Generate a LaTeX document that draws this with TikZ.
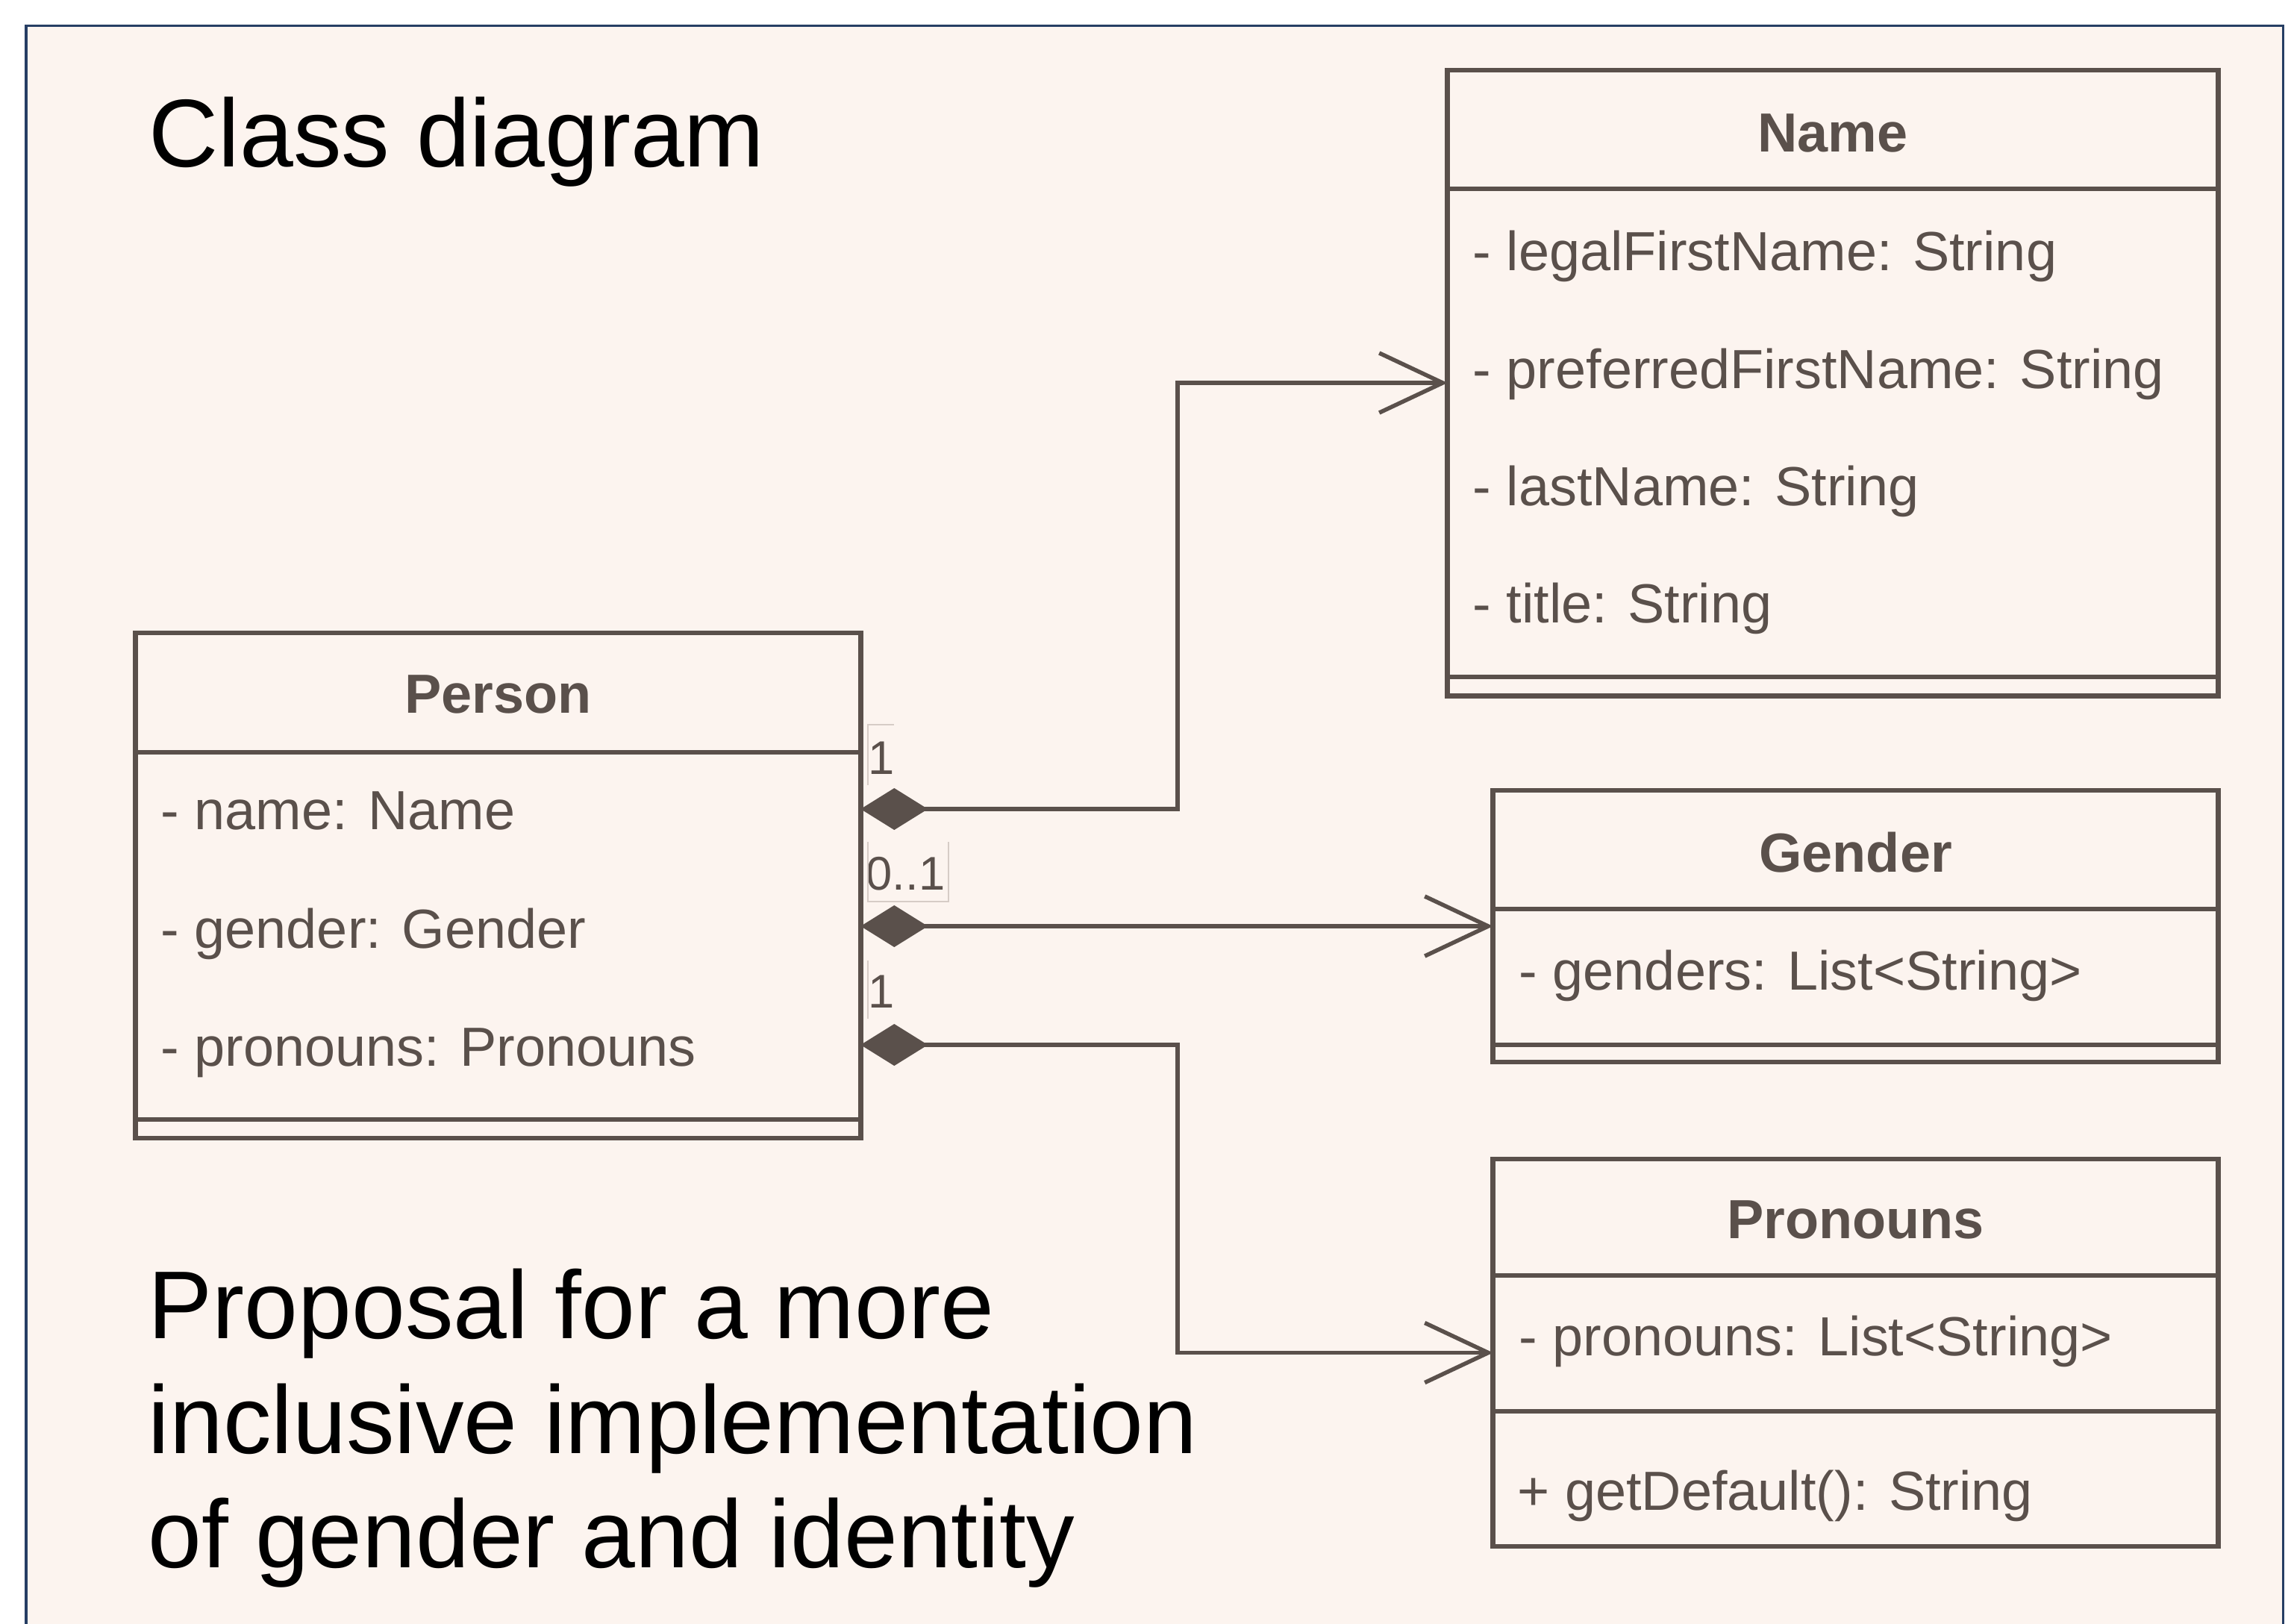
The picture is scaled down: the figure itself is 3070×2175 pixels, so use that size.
\documentclass[tikz,border=0pt]{standalone}
\usepackage{fontspec}
\setmainfont{Liberation Sans}
\usetikzlibrary{arrows.meta}
\definecolor{bg}{RGB}{252,244,239}
\definecolor{framecol}{RGB}{38,62,100}
\definecolor{uml}{RGB}{90,80,75}
\definecolor{faint}{RGB}{214,204,198}
\begin{document}
\begin{tikzpicture}[x=0.01cm,y=-0.01cm,
  classbox/.style={draw=uml, line width=0.065cm, inner sep=0pt, outer sep=0pt},
  seprule/.style={draw=uml, line width=0.06cm},
  hdr/.style={font=\fontsize{21pt}{25pt}\selectfont\bfseries, text=uml, inner sep=0pt, anchor=base},
  attr/.style={font=\fontsize{21pt}{25pt}\selectfont, text=uml, inner sep=0pt, anchor=base west},
  mult/.style={font=\fontsize{18pt}{22pt}\selectfont, text=uml, inner sep=0pt, anchor=base west},
  big/.style={font=\fontsize{36.7pt}{44pt}\selectfont, text=black, inner sep=0pt, anchor=base west},
  faintline/.style={draw=faint, line width=0.015cm},
  assoc/.style={draw=uml, line width=0.055cm,
    {Diamond[length=0.9cm,width=0.56cm]}-{Straight Barb[length=0.85cm,width=0.8cm]}}
]
\useasboundingbox (0,0) rectangle (3070,2175);
\fill[white] (0,0) rectangle (3070,2175);
\draw[framecol, fill=bg, line width=0.03cm] (35,34) rectangle (3059,2240);

% title texts
\node[big] (title) at (199,223) {Class diagram};
\node[big] (prop1) at (198,1793) {Proposal for a more};
\node[big] (prop2) at (198,1947) {inclusive implementation};
\node[big] (prop3) at (198,2100) {of gender and identity};

% class boxes
\node[classbox, minimum width=10.32cm, minimum height=8.38cm] (namebox) at (2456,513) {};
\node[classbox, minimum width=9.71cm, minimum height=3.64cm] (genderbox) at (2486.5,1241) {};
\node[classbox, minimum width=9.71cm, minimum height=5.19cm] (pronbox) at (2486.5,1812.5) {};
\node[classbox, minimum width=9.71cm, minimum height=6.77cm] (person) at (667.5,1186.5) {};

% compartments
\draw[seprule] (namebox.west |- 0,253) -- (namebox.east |- 0,253);
\draw[seprule] (namebox.west |- 0,907) -- (namebox.east |- 0,907);
\draw[seprule] (person.west |- 0,1008) -- (person.east |- 0,1008);
\draw[seprule] (person.west |- 0,1500) -- (person.east |- 0,1500);
\draw[seprule] (genderbox.west |- 0,1218) -- (genderbox.east |- 0,1218);
\draw[seprule] (genderbox.west |- 0,1400) -- (genderbox.east |- 0,1400);
\draw[seprule] (pronbox.west |- 0,1709) -- (pronbox.east |- 0,1709);
\draw[seprule] (pronbox.west |- 0,1891) -- (pronbox.east |- 0,1891);

% Name
\node[hdr] (nameh) at (2456,203) {Name};
\node[attr] (n1) at (1973,362) {- legalFirstName: String};
\node[attr] (n2) at (1973,520) {- preferredFirstName: String};
\node[attr] (n3) at (1973,677) {- lastName: String};
\node[attr] (n4) at (1973,834) {- title: String};

% Person
\node[hdr] (personh) at (667.5,955) {Person};
\node[attr] (p1) at (215,1111) {- name: Name};
\node[attr] (p2) at (215,1270) {- gender: Gender};
\node[attr] (p3) at (215,1428) {- pronouns: Pronouns};

% Gender
\node[hdr] (genderh) at (2486.5,1168) {Gender};
\node[attr] (g1) at (2035,1326) {- genders: List<String>};

% Pronouns
\node[hdr] (pronh) at (2486.5,1659) {Pronouns};
\node[attr] (r1) at (2035,1816) {- pronouns: List<String>};
\node[attr] (r2) at (2033,2023) {+ getDefault(): String};

% connectors
\coordinate (bendx) at (1578,0);
\coordinate (rowA) at (0,1084);
\coordinate (rowC) at (0,1400);
\draw[assoc] (person.east |- rowA) -| (bendx |- namebox.west) -- (namebox.west);
\draw[assoc] (person.east |- genderbox.west) -- (genderbox.west);
\draw[assoc] (person.east |- rowC) -| (bendx |- pronbox.west) -- (pronbox.west);

% multiplicities
\node[mult] (m1) at (1163,1037) {1};
\node[mult] (m2) at (1160,1192) {0..1};
\node[mult] (m3) at (1163,1350) {1};
\draw[faintline] (1163,1052) -- (1163,971) -- (1198,971);
\draw[faintline] (1163,1128) -- (1163,1208) -- (1271,1208) -- (1271,1128);
\draw[faintline] (1163,1287) -- (1163,1365);
\end{tikzpicture}
\end{document}
